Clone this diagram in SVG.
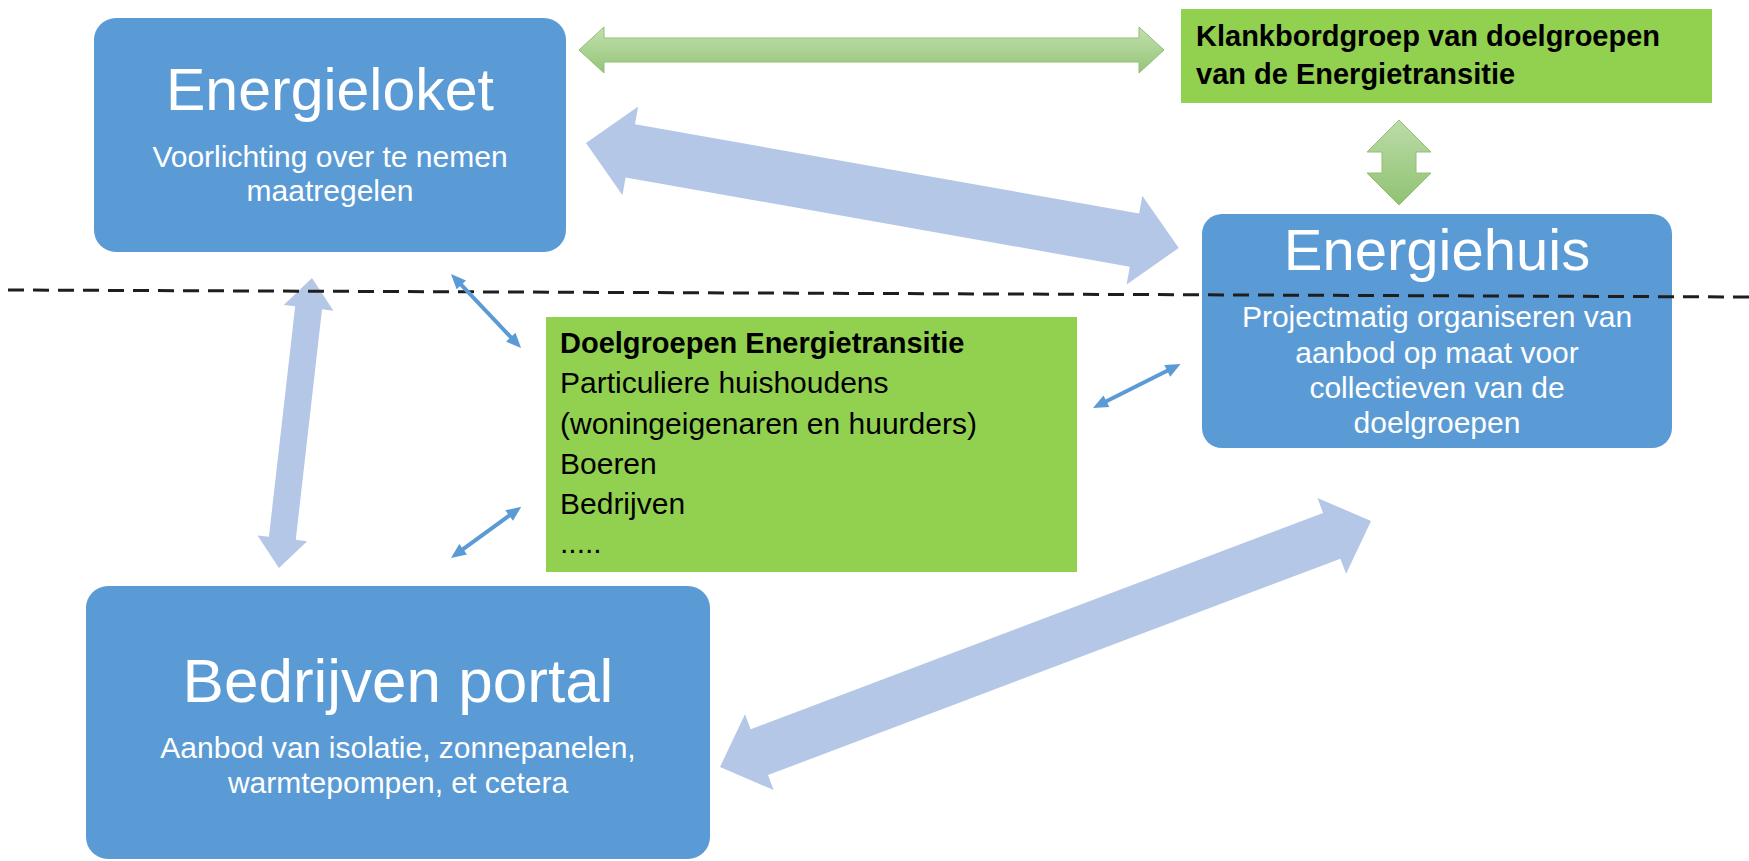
<svg xmlns="http://www.w3.org/2000/svg" width="1749" height="861" viewBox="0 0 1749 861">
<defs>
<linearGradient id="gg" x1="0" y1="0" x2="0" y2="1">
<stop offset="0" stop-color="#bcdca8"/>
<stop offset="1" stop-color="#8fc272"/>
</linearGradient>
<linearGradient id="ggh" x1="0" y1="0" x2="0" y2="1">
<stop offset="0" stop-color="#c2e0ae"/>
<stop offset="1" stop-color="#94c578"/>
</linearGradient>
</defs>
<style>
.blue{fill:#5b9bd5}
.green{fill:#92d050}
.title{font-family:"Liberation Sans",Arial,sans-serif;fill:#ffffff;text-anchor:middle}
.sub{font-family:"Liberation Sans",Arial,sans-serif;fill:#ffffff;font-size:30px;text-anchor:middle}
.gt{font-family:"Liberation Sans",Arial,sans-serif;fill:#000000;font-size:30px}
.gb{font-weight:bold;font-size:29px}
.big{fill:#b4c7e7}
.thin{fill:#5b9bd5}
.garrow{stroke:#92bf74;stroke-width:1}
.dash{stroke:#1e1e1e;stroke-width:3;stroke-dasharray:16 9;fill:none}
</style>
<rect width="1749" height="861" fill="#ffffff"/>

<g id="energieloket">
<rect class="blue" x="94" y="18" width="472" height="234" rx="22"/>
<text class="title" x="330" y="110" font-size="59">Energieloket</text>
<text class="sub" x="330" y="167">Voorlichting over te nemen</text>
<text class="sub" x="330" y="201">maatregelen</text>
</g>

<g id="klankbordgroep">
<rect class="green" x="1181" y="9" width="531" height="94"/>
<text class="gt gb" x="1196" y="46">Klankbordgroep van doelgroepen</text>
<text class="gt gb" x="1196" y="84">van de Energietransitie</text>
</g>

<g id="energiehuis">
<rect class="blue" x="1202" y="214" width="470" height="234" rx="20"/>
<text class="title" x="1437" y="270" font-size="58">Energiehuis</text>
<text class="sub" x="1437" y="327">Projectmatig organiseren van</text>
<text class="sub" x="1437" y="363">aanbod op maat voor</text>
<text class="sub" x="1437" y="398">collectieven van de</text>
<text class="sub" x="1437" y="433">doelgroepen</text>
</g>

<g id="doelgroepen">
<rect class="green" x="546" y="317" width="531" height="255"/>
<text class="gt gb" x="560" y="353">Doelgroepen Energietransitie</text>
<text class="gt" x="560" y="393">Particuliere huishoudens</text>
<text class="gt" x="560" y="434">(woningeigenaren en huurders)</text>
<text class="gt" x="560" y="474">Boeren</text>
<text class="gt" x="560" y="514">Bedrijven</text>
<text class="gt" x="560" y="553">.....</text>
</g>

<g id="bedrijven-portal">
<rect class="blue" x="86" y="586" width="624" height="273" rx="22"/>
<text class="title" x="398" y="702" font-size="62">Bedrijven portal</text>
<text class="sub" x="398" y="758">Aanbod van isolatie, zonnepanelen,</text>
<text class="sub" x="398" y="793">warmtepompen, et cetera</text>
</g>

<g id="connectors">
<path class="garrow" fill="url(#ggh)" d="M579,50 L604,27 L604,38 L1139,38 L1139,27 L1164,50 L1139,73 L1139,62 L604,62 L604,73 Z"/>
<path class="garrow" fill="url(#gg)" d="M1399,120 L1431,152 L1416,152 L1416,173 L1431,173 L1399,205 L1367,173 L1382,173 L1382,152 L1367,152 Z"/>
<path class="big" transform="translate(586,143) rotate(10.04)" d="M0,0 L45,-45 L45,-27 L557,-27 L557,-45 L602,0 L557,45 L557,27 L45,27 L45,45 Z"/>
<path class="big" transform="translate(720,767) rotate(-20.7)" d="M0,0 L42,-40.5 L42,-24.5 L654,-24.5 L654,-40.5 L696,0 L654,40.5 L654,24.5 L42,24.5 L42,40.5 Z"/>
<path class="big" transform="translate(312,278) rotate(96.5)" d="M0,0 L30,-25 L30,-13.5 L262,-13.5 L262,-25 L292,0 L262,25 L262,13.5 L30,13.5 L30,25 Z"/>
<line class="dash" x1="8" y1="290" x2="1749" y2="297"/>
<path class="thin" transform="translate(451,274) rotate(46.6)" d="M0,0 L15,-6.5 L15,-2 L87,-2 L87,-6.5 L102,0 L87,6.5 L87,2 L15,2 L15,6.5 Z"/>
<path class="thin" transform="translate(451,558) rotate(-36.1)" d="M0,0 L15,-6.5 L15,-2 L72,-2 L72,-6.5 L87,0 L72,6.5 L72,2 L15,2 L15,6.5 Z"/>
<path class="thin" transform="translate(1093,408) rotate(-26.6)" d="M0,0 L15,-6.5 L15,-2 L83,-2 L83,-6.5 L98,0 L83,6.5 L83,2 L15,2 L15,6.5 Z"/>
</g>
</svg>
